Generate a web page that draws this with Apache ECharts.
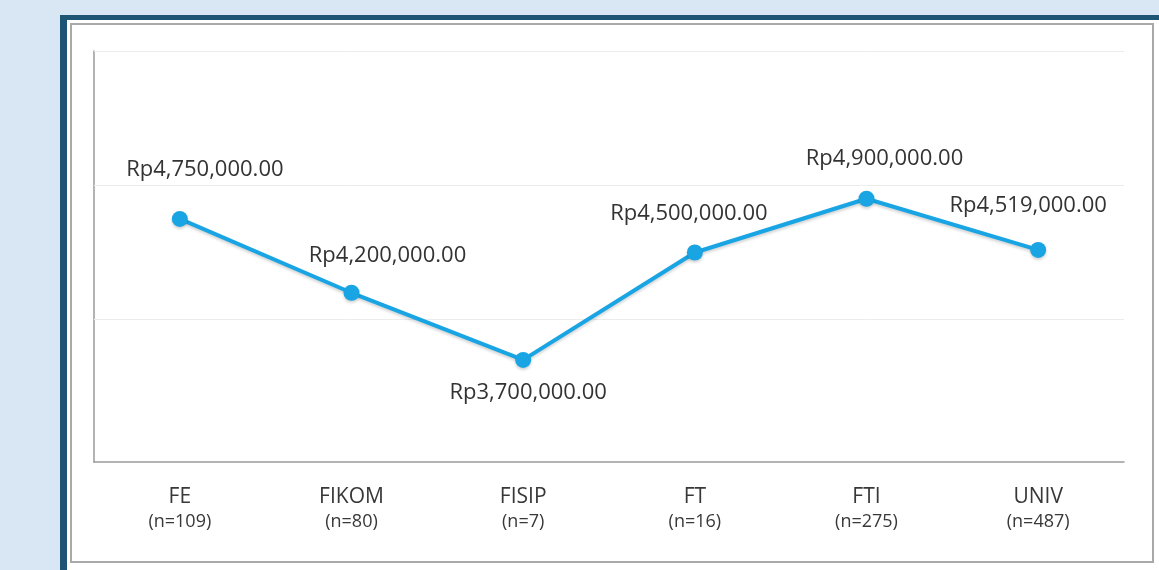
<!DOCTYPE html>
<html>
<head>
<meta charset="utf-8">
<script src="https://cdn.jsdelivr.net/npm/echarts@6/dist/echarts.min.js"></script>
<style>
  html, body { margin: 0; padding: 0; width: 1159px; height: 570px; overflow: hidden; background: #d9e7f4; }
  .frame { position: absolute; left: 60px; top: 15px; width: 1120px; height: 580px; background: #1f5574; }
  .panel { position: absolute; left: 67px; top: 20px; width: 1110px; height: 570px; background: #ffffff; }
  .box { position: absolute; left: 70px; top: 23px; width: 1080px; height: 536px; border: 2px solid #a9a9a9; }
  #chart { position: absolute; left: 0; top: 0; width: 1159px; height: 570px; }
</style>
</head>
<body>
<div class="frame"></div>
<div class="panel"></div>
<div class="box"></div>
<div id="chart"></div>
<script>
const categories = ['FE', 'FIKOM', 'FISIP', 'FT', 'FTI', 'UNIV']
const sampleSizes = [109, 80, 7, 16, 275, 487]
const salaries = [4750000, 4200000, 3700000, 4500000, 4900000, 4519000]
// horizontal gridlines of the original
const gridValues = [4000000, 5000000, 6000000]
// label offsets from the point centre, per category
const labelOffsets = [[25, -49], [36, -37], [5, 33], [-6, -39], [18, -40], [-10, -44]]

const fmtRp = v => 'Rp' + v.toLocaleString('en-US', { minimumFractionDigits: 2, maximumFractionDigits: 2 })

const chart = echarts.init(document.getElementById('chart'))

const option = {
  animation: false,
  textStyle: { fontFamily: '"Open Sans", sans-serif' },
  grid: { left: 94, right: 35, top: 51, bottom: 108 },
  xAxis: {
    type: 'category',
    data: categories,
    axisLine: { lineStyle: { color: '#9a9a9a', width: 1.5 } },
    axisTick: { alignWithLabel: true, inside: true, length: 4, lineStyle: { color: '#9a9a9a' } },
    axisLabel: {
      margin: 22,
      formatter: (val, idx) => '{a|' + val + '}\n{b|(n=' + sampleSizes[idx] + ')}',
      rich: {
        a: { fontSize: 21, lineHeight: 26, color: '#383838', fontFamily: '"Open Sans", sans-serif' },
        b: { fontSize: 18, lineHeight: 24, color: '#383838', fontFamily: '"Open Sans", sans-serif' }
      }
    }
  },
  yAxis: {
    type: 'value',
    min: 2940000,
    max: 6000000,
    axisLabel: { show: false },
    axisTick: { show: false },
    axisLine: { show: true, lineStyle: { color: '#9a9a9a', width: 1.5 } },
    splitLine: { show: false }
  },
  series: [
    {
      type: 'line',
      data: salaries.map((v, i) => ({
        value: v,
        label: { offset: labelOffsets[i] }
      })),
      symbol: 'circle',
      symbolSize: 16,
      z: 3,
      lineStyle: {
        color: '#19a5e4',
        width: 4,
        shadowColor: 'rgba(0,0,0,0.18)',
        shadowBlur: 3,
        shadowOffsetY: 2
      },
      itemStyle: {
        color: '#19a5e4',
        shadowColor: 'rgba(0,0,0,0.18)',
        shadowBlur: 3,
        shadowOffsetY: 2
      },
      label: {
        show: true,
        position: 'inside',
        formatter: p => fmtRp(p.value),
        fontSize: 22,
        color: '#333333',
        fontFamily: '"Open Sans", sans-serif'
      },
      markLine: {
        silent: true,
        symbol: 'none',
        label: { show: false },
        lineStyle: { color: '#ececec', width: 1, type: 'solid' },
        z: 1,
        data: gridValues.map(v => ({ yAxis: v }))
      }
    }
  ]
}

chart.setOption(option)
</script>
</body>
</html>
